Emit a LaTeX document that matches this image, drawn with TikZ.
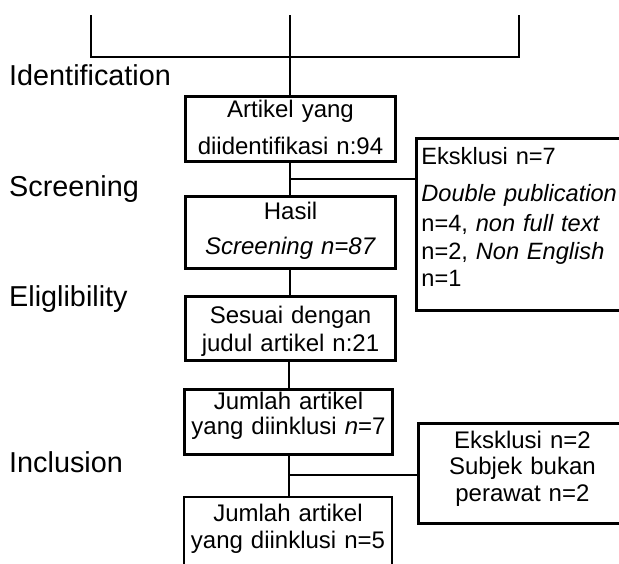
\documentclass[tikz,border=0pt]{standalone}
\usepackage{fontspec}
\setmainfont{Liberation Sans}
\usetikzlibrary{positioning,calc}

\begin{document}
\begin{tikzpicture}[
  x=1pt, y=-1pt,
  line/.style={line width=2.8pt},
  box/.style={draw, line width=2.8pt, inner xsep=6pt, inner ysep=0pt,
    align=center, font=\fontsize{24}{27}\selectfont},
  exbox/.style={box, inner xsep=5pt},
  phase/.style={anchor=base west, inner sep=0pt,
    font=\fontsize{28.8}{32}\selectfont}
]
  \useasboundingbox (0,0) rectangle (619,563);

  \coordinate (tl) at (91,15);
  \coordinate (tm) at (290,15);
  \coordinate (tr) at (519,15);
  \coordinate (join) at (290,57);

  \node[box, anchor=north, text width=198pt, text height=21pt, text depth=44pt]
    (ident) at (290.5,95) {Artikel yang\\[10pt]diidentifikasi n:94};
  \node[box, anchor=north, text width=198pt, text height=23pt, text depth=49pt]
    (screen) at (290.5,195) {Hasil\\[8pt]\textit{Screening n=87}};
  \node[box, anchor=north, text width=198pt, text height=27pt, text depth=37pt]
    (elig) at (290.5,295) {Sesuai dengan\\[1pt]judul artikel n:21};
  \node[box, anchor=north, text width=196pt, text height=20pt, text depth=45pt]
    (incl) at (288.5,388) {Jumlah artikel\\[-2pt]yang diinklusi \textit{n}=7};
  \node[box, anchor=north, text width=196pt, text height=24.5pt, text depth=55pt]
    (final) at (288,495.5) {Jumlah artikel\\yang diinklusi n=5};

  \node[exbox, anchor=north west, align=left, text width=205pt,
    font=\fontsize{23.6}{27}\selectfont,
    text height=26pt, text depth=146pt] (excl1) at (415,137)
    {Eksklusi n=7\\[10pt]\textit{Double publication}\\[3pt]n=4, \textit{non full text}\\[1pt]n=2, \textit{Non English}\\n=1};
  \node[exbox, anchor=north west, text width=198pt,
    text height=25pt, text depth=75pt] (excl2) at (417,422)
    {Eksklusi n=2\\[-1pt]Subjek bukan\\perawat n=2};

  \node[phase] (p1) at (9,85) {Identification};
  \node[phase] (p2) at (9,196) {Screening};
  \node[phase] (p3) at (9,306.5) {Eliglibility};
  \node[phase] (p4) at (9,472.5) {Inclusion};

  \coordinate (split1) at (290,179);
  \coordinate (split2) at (289,475);

  \draw[line] (tl) |- (join) -| (tr);
  \draw[line] (tm) -- (tm |- ident.north);
  \draw[line] (ident.south -| split1) -- (screen.north -| split1);
  \draw[line] (split1) -- (split1 -| excl1.west);
  \draw[line] (screen.south -| split1) -- (elig.north -| split1);
  \draw[line] (elig.south -| split2) -- (incl.north -| split2);
  \draw[line] (incl.south -| split2) -- (final.north -| split2);
  \draw[line] (split2) -- (split2 -| excl2.west);
\end{tikzpicture}
\end{document}
